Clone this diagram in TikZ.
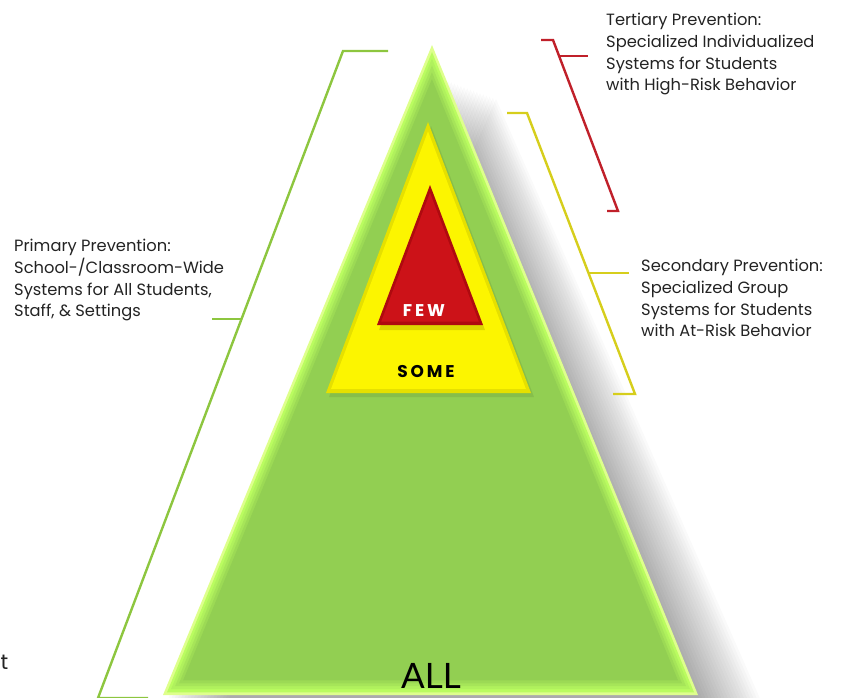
\documentclass[tikz,border=0pt]{standalone}
\usepackage{fontspec}
\setmainfont{Poppins}
\newfontfamily\headf{Poppins}
\newfontfamily\allf{Lato}
\usetikzlibrary{calc}
\definecolor{greenline}{RGB}{141,198,63}
\definecolor{redline}{RGB}{192,32,42}
\definecolor{yellowline}{RGB}{214,206,28}
\definecolor{gmain}{RGB}{146,207,82}
\definecolor{glight}{RGB}{186,252,96}
\definecolor{gpale}{RGB}{222,255,140}
\definecolor{yel}{RGB}{252,245,0}
\definecolor{yeldark}{RGB}{230,224,0}
\definecolor{redf}{RGB}{204,18,24}
\definecolor{reddark}{RGB}{175,10,15}
\definecolor{txt}{RGB}{35,35,35}
\tikzset{
  bracket/.style={line width=2.4pt, line join=miter},
  label/.style={anchor=north west, inner sep=0pt, align=left, text=txt,
    font=\fontsize{16.3}{21.7}\selectfont},
  tier/.style={inner sep=0pt, font=\headf\bfseries\fontsize{17}{17}\selectfont}
}
\def\bigtri{(432,45) -- (163,695) -- (698,695) -- cycle}
\def\yeltri{(428,122) -- (326,393) -- (531,393) -- cycle}
\def\redtri{(430,185) -- (377,325) -- (483,325) -- cycle}
\begin{document}
\begin{tikzpicture}[x=1pt,y=-1pt]
\useasboundingbox (0,0) rectangle (848,698);
\clip (0,0) rectangle (848,698);
% shadow
\foreach \i in {1,...,20}{
  \fill[black, opacity=0.02, shift={(\i*3.2,0)}] (432,{75+\i*1.2}) -- (163,703) -- (698,703) -- cycle;
}
% big triangle with bevel
\fill[gpale] \bigtri;
\fill[glight, scale around={0.985:(431,516)}] \bigtri;
\foreach \f/\c in {0.97/25, 0.955/50, 0.94/75, 0.925/100}{
  \fill[gmain!\c!glight, scale around={\f:(431,500)}] \bigtri;
}
% yellow triangle
\fill[black, opacity=0.08, shift={(3,4)}] \yeltri;
\fill[yeldark] \yeltri;
\fill[yel, scale around={0.95:(428,310)}] \yeltri;
% red triangle
\fill[black, opacity=0.12, shift={(2,5)}] \redtri;
\fill[reddark] \redtri;
\fill[redf, scale around={0.92:(430,282)}] \redtri;
% tier labels
\node[tier, text=white] (few) at (424,311) {F\,E\,W};
\node[tier, text=black] (some) at (426,372) {S\,O\,M\,E};
\node[inner sep=0pt, font=\allf\fontsize{35}{35}\selectfont] (all) at (431,676) {ALL};
% side labels
\node[label] (tert) at (606,13) {Tertiary Prevention:\\Specialized Individualized\\Systems for Students\\with High-Risk Behavior};
\node[label] (sec) at (641,259) {Secondary Prevention:\\Specialized Group\\Systems for Students\\with At-Risk Behavior};
\node[label] (prim) at (14,239) {Primary Prevention:\\School-/Classroom-Wide\\Systems for All Students,\\Staff, \& Settings};
\node[inner sep=0pt, anchor=west, text=txt, font=\fontsize{21}{21}\selectfont] (stray) at (0.5,662) {t};
% brackets
\coordinate (g1) at (388,51);
\coordinate (g2) at (343,51);
\coordinate (g3) at (98,698);
\coordinate (g4) at (148,698);
\coordinate (gt1) at (212,319);
\coordinate (gt2) at (241,319);
\draw[bracket, greenline] (g1) -- (g2) -- (g3) -- (g4);
\draw[bracket, greenline] (gt1) -- (gt2);
\coordinate (r1) at (541,40);
\coordinate (r2) at (553,40);
\coordinate (r3) at (618,211);
\coordinate (r4) at (607,211);
\coordinate (rt1) at (559,56);
\coordinate (rt2) at (588,56);
\draw[bracket, redline] (r1) -- (r2) -- (r3) -- (r4);
\draw[bracket, redline] (rt1) -- (rt2);
\coordinate (y1) at (507,113);
\coordinate (y2) at (527,113);
\coordinate (y3) at (635,394);
\coordinate (y4) at (613,394);
\coordinate (yt1) at (589,273);
\coordinate (yt2) at (629,273);
\draw[bracket, yellowline] (y1) -- (y2) -- (y3) -- (y4);
\draw[bracket, yellowline] (yt1) -- (yt2);
\end{tikzpicture}
\end{document}
